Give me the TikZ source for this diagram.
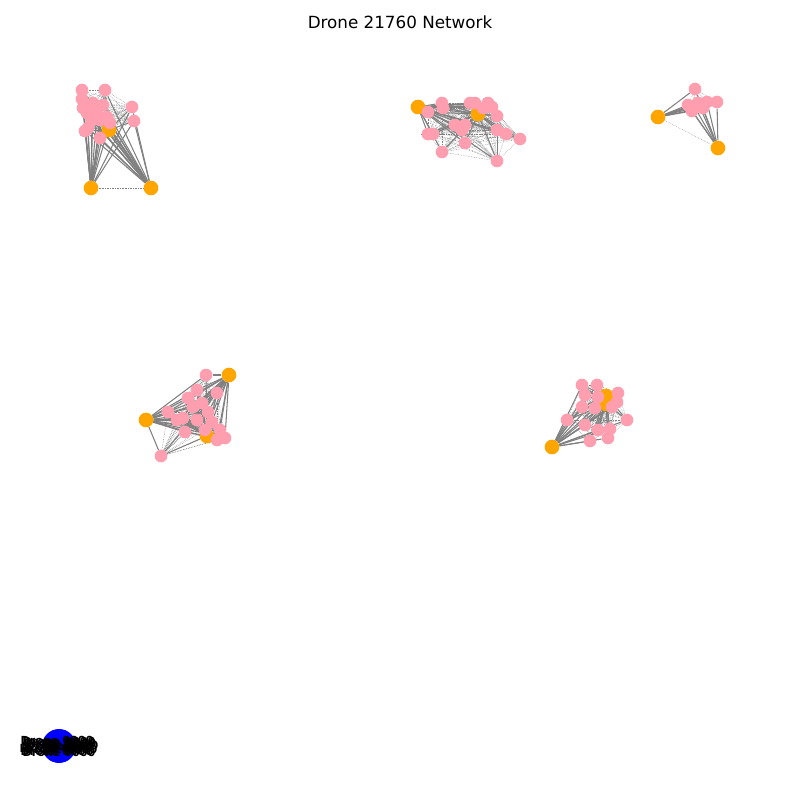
\documentclass[tikz,border=0pt]{standalone}
\usepackage{fontspec}
\setmainfont{DejaVu Sans}
\usepackage{xcolor}
\usepackage{tikz}
\usetikzlibrary{backgrounds}

\definecolor{dronepink}{RGB}{255,158,174}
\definecolor{huborange}{RGB}{255,165,0}
\definecolor{edgegray}{RGB}{128,128,128}

\begin{document}
\begin{tikzpicture}[
    x=0.03cm, y=-0.03cm,
    drone/.style={circle, fill=dronepink, inner sep=0pt, minimum size=10.8pt},
    hub/.style={circle, fill=huborange, inner sep=0pt, minimum size=12.5pt},
    base/.style={circle, fill=blue, inner sep=0pt, minimum size=29pt},
    link/.style={draw=edgegray, line width=0.9pt},
    weak/.style={draw=edgegray, line width=0.3pt, dash pattern=on 0.6pt off 0.8pt},
    lbl/.style={font=\bfseries\fontsize{9.5}{11}\selectfont, text=black, inner sep=0pt}
]
    \useasboundingbox (0,0) rectangle (800,800);
    \node[font=\fontsize{14.3}{17}\selectfont] (title) at (400,22) {Drone 21760 Network};

    % hubs
    \foreach \n/\x/\y in {a1/91/188, a2/151/188, a3/109/130,
                          b1/418/107, b2/478/114,
                          c1/658/117, c2/718/148,
                          d1/229/375, d2/146/420, d3/207/436,
                          e1/552/447, e2/606/396, e3/606/404}
        \node[hub] (\n) at (\x,\y) {};

    % drones per cluster
    \foreach \n/\x/\y in {1/82/90, 2/105/90, 3/82/99, 4/83/108, 5/93/103, 6/97/112,
                          7/103/105, 8/87/113, 9/85/131, 10/100/138, 11/110/123,
                          12/132/107, 13/134/121, 14/92/120, 15/100/120, 16/107/117, 17/88/128}
        \node[drone] (pa\n) at (\x,\y) {};
    \foreach \n/\x/\y in {1/428/112, 2/442/103, 3/443/108, 4/470/103, 5/475/103, 6/488/103,
                          7/483/108, 8/497/116, 9/455/125, 10/465/125, 11/428/134, 12/433/134,
                          13/465/143, 14/497/130, 15/506/134, 16/520/139, 17/442/152,
                          18/497/161, 19/462/130, 20/492/107}
        \node[drone] (pb\n) at (\x,\y) {};
    \foreach \n/\x/\y in {1/695/89, 2/688/105, 3/698/103, 4/707/102, 5/717/102,
                          6/692/111, 7/703/108, 8/694/106}
        \node[drone] (pc\n) at (\x,\y) {};
    \foreach \n/\x/\y in {1/206/375, 2/161/456, 3/197/390, 4/217/393, 5/168/412, 6/188/398,
                          7/208/412, 8/183/418, 9/197/420, 10/212/422, 11/185/432, 12/205/430,
                          13/217/440, 14/225/438, 15/220/430, 16/177/420, 17/193/407, 18/202/403}
        \node[drone] (pd\n) at (\x,\y) {};
    \foreach \n/\x/\y in {1/582/385, 2/597/385, 3/585/395, 4/598/397, 5/618/393, 6/617/402,
                          7/582/407, 8/595/408, 9/612/407, 10/567/420, 11/627/420, 12/585/425,
                          13/598/430, 14/610/429, 15/590/441, 16/608/438}
        \node[drone] (pe\n) at (\x,\y) {};

    \node[base] (station) at (59,746) {};
    \foreach \k/\dx/\dy in {1/-2/-6, 2/1/-3, 3/-1/0, 4/2/3, 5/0/6, 6/-3/2, 7/3/-1, 8/0/-5, 9/-2/5}
        \node[lbl] (tag\k) at (59+\dx,746+\dy) {Drone 0000};

    \begin{scope}[on background layer]
        % weak links between drones
        \foreach \c/\m/\mm in {a/17/16, b/20/19, c/8/7, d/18/17, e/16/15}
            \foreach \i [evaluate=\i as \k using int(\i+1)] in {1,...,\mm}
                \foreach \j in {\k,...,\m}
                    \draw[weak] (p\c\i) -- (p\c\j);
        \draw[weak] (a1) -- (a2);
        \draw[weak] (c1) -- (c2);
        % hub links
        \foreach \h/\c/\m in {a1/a/17, a2/a/17, a3/a/17, b1/b/20, b2/b/20, c1/c/8, c2/c/8,
                              d1/d/18, d2/d/18, d3/d/18, e1/e/16, e2/e/16, e3/e/16}
            \foreach \i in {1,...,\m}
                \draw[link] (\h) -- (p\c\i);
    \end{scope}
\end{tikzpicture}
\end{document}
